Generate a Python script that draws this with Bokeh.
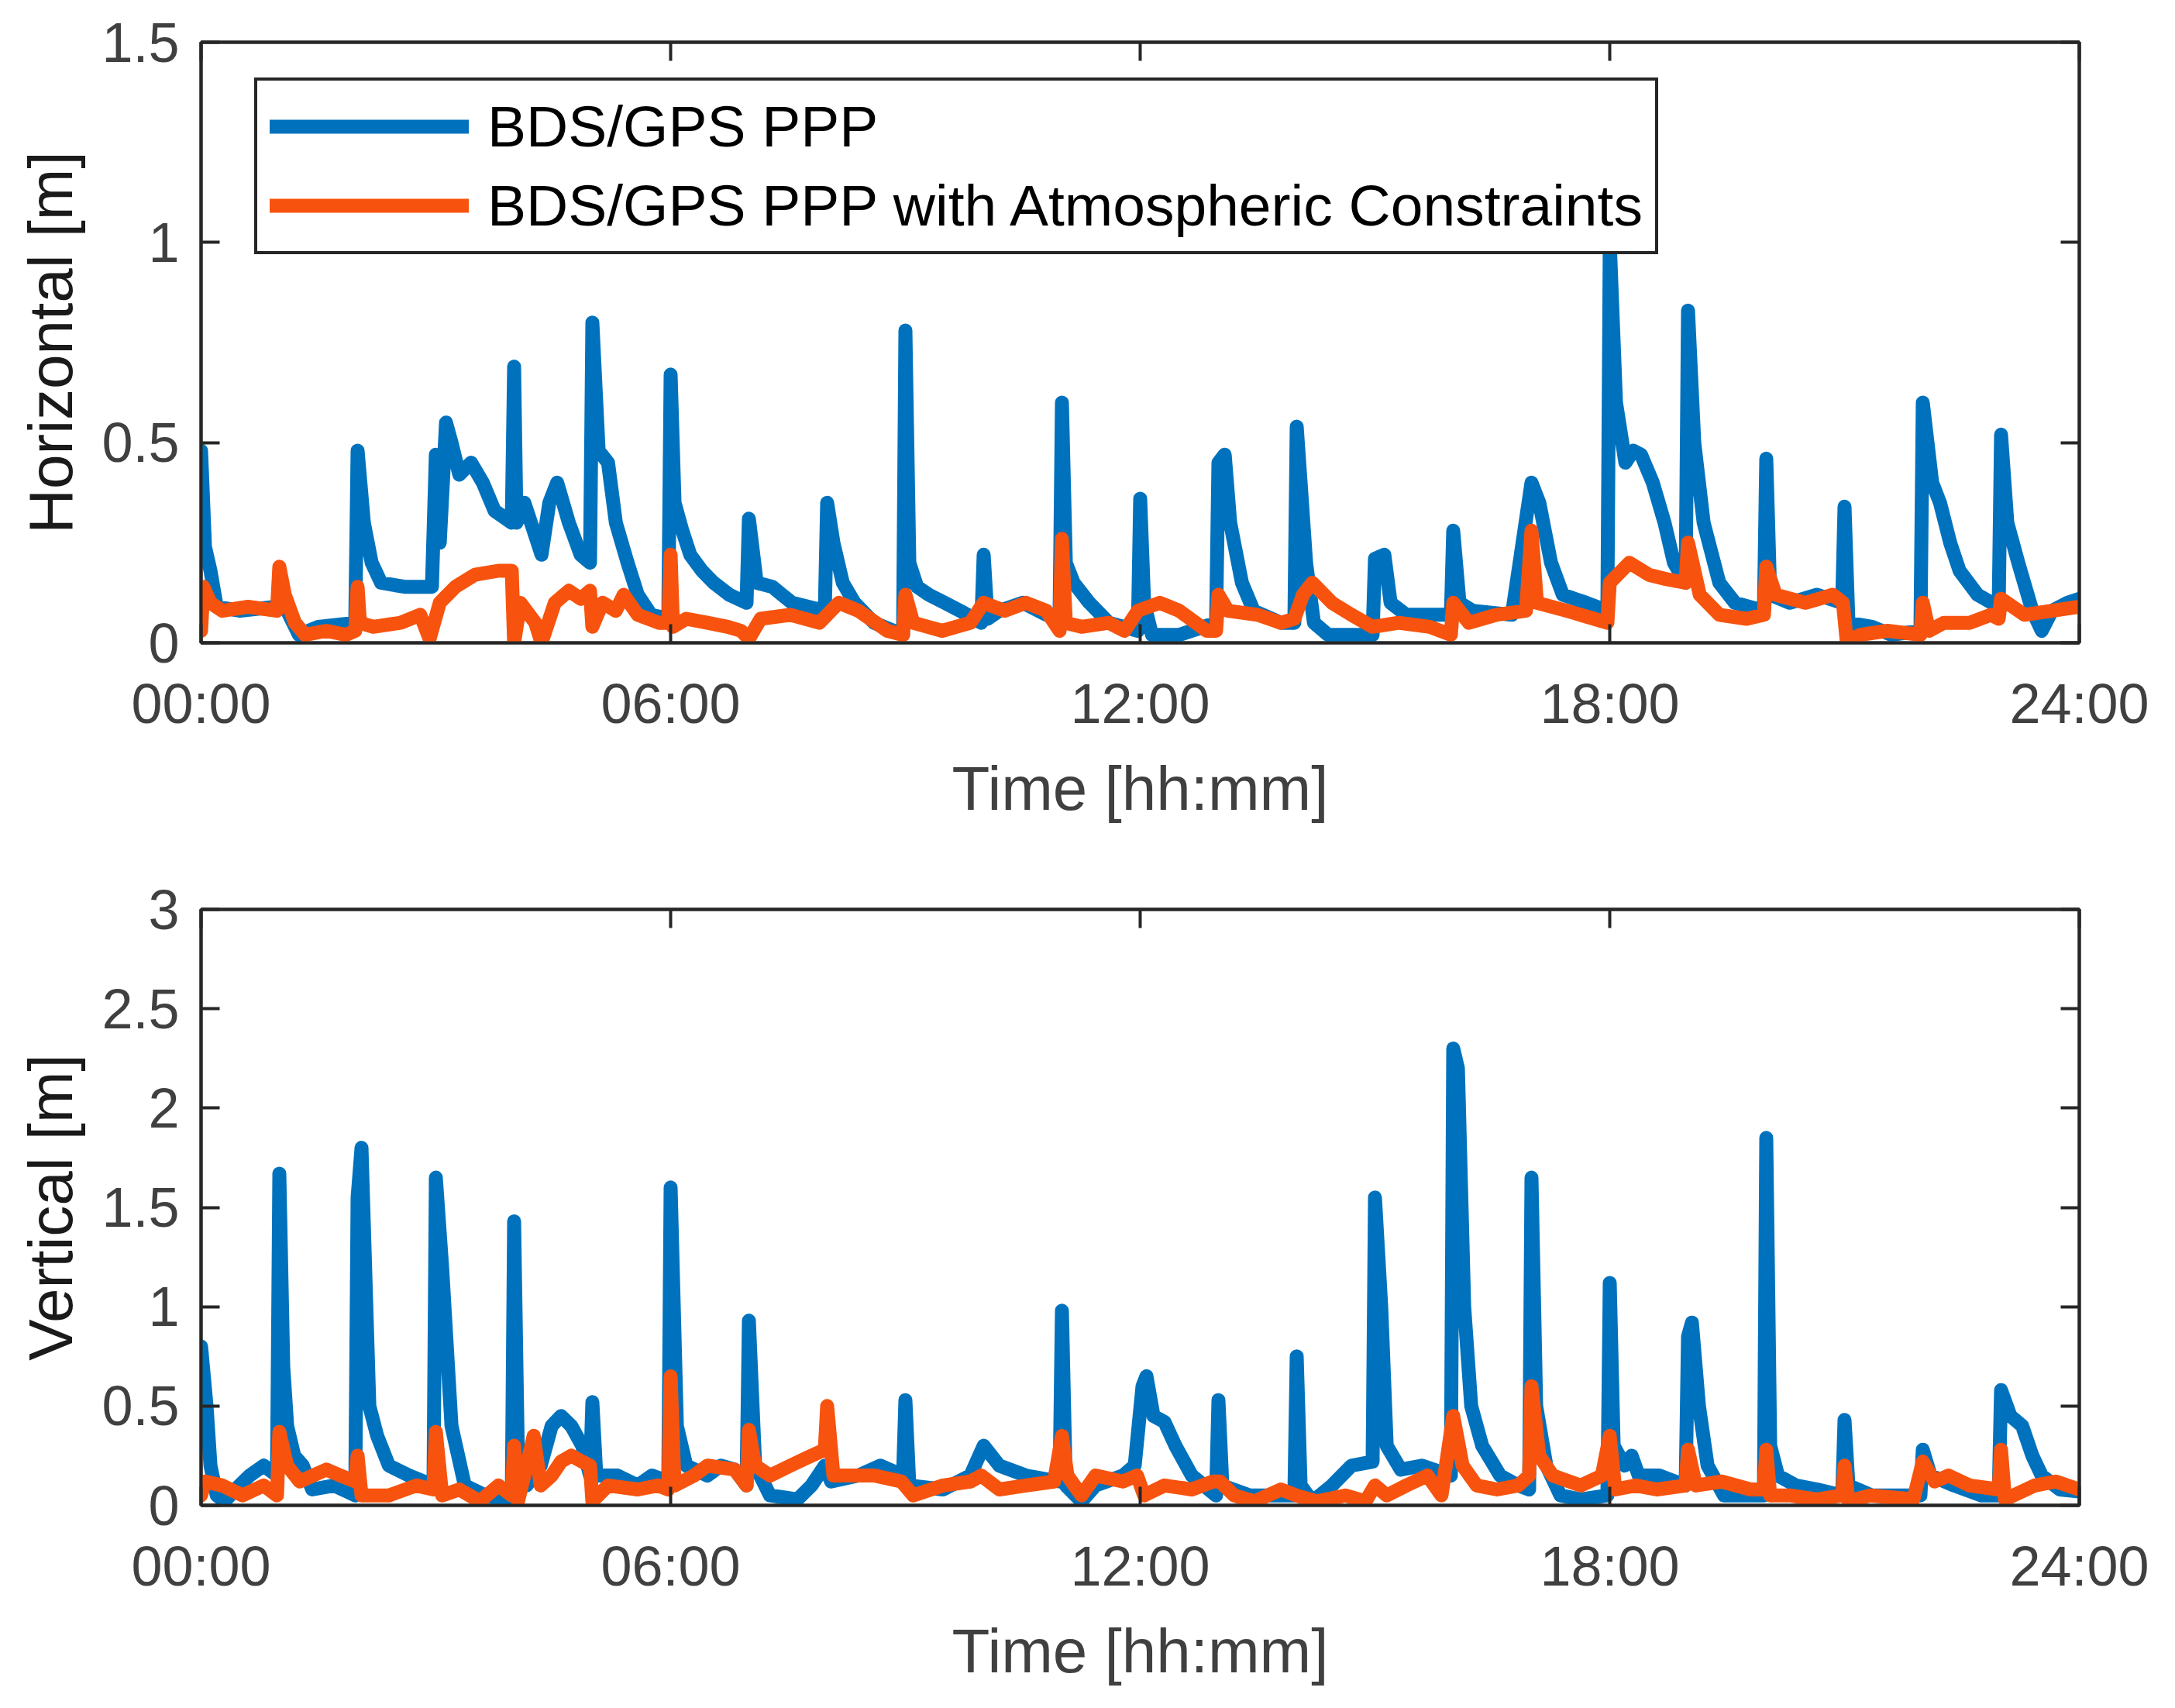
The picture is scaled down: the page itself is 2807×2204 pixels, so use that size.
import numpy as np
from bokeh.plotting import figure
from bokeh.layouts import column
from bokeh.models import Range1d, FixedTicker, LinearAxis, CustomJSTickFormatter
from bokeh.embed import file_html
from bokeh.resources import INLINE

# time in hours, error in metres
hor_ppp_t = [0.0, 0.05, 0.12, 0.2, 0.5, 0.95, 1.05, 1.15, 1.25, 1.5, 1.97,
             2.0, 2.08, 2.18, 2.3, 2.6, 2.95,
             3.0, 3.05, 3.13, 3.2, 3.3, 3.45, 3.6, 3.75, 3.97,
             4.0, 4.03, 4.13, 4.25, 4.35, 4.45, 4.55, 4.7, 4.85, 4.97,
             5.0, 5.08, 5.2, 5.3, 5.45, 5.58, 5.75, 5.97,
             6.0, 6.05, 6.15, 6.25, 6.4, 6.55, 6.75, 6.97,
             7.0, 7.1, 7.3, 7.55, 7.97,
             8.0, 8.08, 8.2, 8.35, 8.6, 8.97,
             9.0, 9.05, 9.15, 9.3, 9.5, 9.7, 9.97,
             10.0, 10.05, 10.2, 10.5, 10.8, 10.97,
             11.0, 11.05, 11.15, 11.35, 11.6, 11.97,
             12.0, 12.05, 12.15, 12.5, 12.97,
             13.0, 13.08, 13.15, 13.3, 13.45, 13.8, 13.97,
             14.0, 14.05, 14.12, 14.22, 14.4, 14.97,
             15.0, 15.12, 15.2, 15.4, 15.97,
             16.0, 16.08, 16.25, 16.75,
             17.0, 17.1, 17.25, 17.4, 17.7, 17.97,
             18.0, 18.08, 18.2, 18.3, 18.4, 18.55, 18.7, 18.82, 18.97,
             19.0, 19.08, 19.2, 19.4, 19.6, 19.97,
             20.0, 20.05, 20.3, 20.65, 20.97,
             21.0, 21.05, 21.35, 21.6, 21.97,
             22.0, 22.12, 22.22, 22.35, 22.47, 22.7, 22.97,
             23.0, 23.08, 23.22, 23.4, 23.52, 23.65, 23.85, 24.0]
hor_ppp_v = [0.48, 0.24, 0.18, 0.09, 0.08, 0.09, 0.1, 0.06, 0.02, 0.04, 0.05,
             0.48, 0.3, 0.2, 0.15, 0.14, 0.14,
             0.47, 0.25, 0.55, 0.5, 0.42, 0.45, 0.4, 0.33, 0.3,
             0.69, 0.3, 0.35, 0.28, 0.22, 0.35, 0.4, 0.3, 0.22, 0.2,
             0.8, 0.48, 0.45, 0.3, 0.2, 0.12, 0.07, 0.06,
             0.67, 0.35, 0.28, 0.22, 0.18, 0.15, 0.12, 0.1,
             0.31, 0.15, 0.14, 0.1, 0.08,
             0.35, 0.25, 0.15, 0.1, 0.05, 0.02,
             0.78, 0.2, 0.14, 0.12, 0.1, 0.08, 0.05,
             0.22, 0.06, 0.08, 0.1, 0.07, 0.07,
             0.6, 0.2, 0.15, 0.1, 0.05, 0.03,
             0.36, 0.1, 0.02, 0.02, 0.05,
             0.45, 0.47, 0.3, 0.15, 0.08, 0.05, 0.05,
             0.54, 0.4, 0.2, 0.05, 0.02, 0.02,
             0.21, 0.22, 0.1, 0.07, 0.07,
             0.28, 0.1, 0.08, 0.07,
             0.4, 0.35, 0.2, 0.12, 0.1, 0.08,
             1.0, 0.6, 0.45, 0.48, 0.47, 0.4, 0.3, 0.2, 0.15,
             0.83, 0.5, 0.3, 0.15, 0.1, 0.08,
             0.46, 0.12, 0.1, 0.12, 0.1,
             0.34, 0.05, 0.04, 0.02, 0.03,
             0.6, 0.4, 0.35, 0.25, 0.18, 0.12, 0.09,
             0.52, 0.3, 0.2, 0.08, 0.03, 0.08, 0.1, 0.11]

hor_atm_t = [0.0, 0.03, 0.12, 0.27, 0.6, 0.97,
             1.0, 1.07, 1.2, 1.33, 1.6, 1.85, 1.97,
             2.0, 2.03, 2.2, 2.55, 2.8, 2.92,
             3.05, 3.25, 3.5, 3.8, 3.97,
             4.0, 4.08, 4.27, 4.35, 4.52, 4.7, 4.85, 4.97,
             5.0, 5.13, 5.3, 5.4, 5.58, 5.85, 5.97,
             6.0, 6.03, 6.2, 6.47, 6.73, 6.9, 7.0,
             7.15, 7.53, 7.9, 8.15, 8.4, 8.77, 8.97,
             9.0, 9.1, 9.47, 9.83, 10.0, 10.27, 10.54, 10.8, 10.97,
             11.0, 11.05, 11.25, 11.6, 11.8, 11.97,
             12.25, 12.5, 12.85, 12.97,
             13.0, 13.12, 13.5, 13.8, 13.97, 14.08, 14.2, 14.45, 14.7, 14.97,
             15.3, 15.7, 15.97, 16.0, 16.2, 16.55, 16.93,
             17.0, 17.07, 17.45, 17.8, 17.97,
             18.0, 18.25, 18.5, 18.7, 18.97,
             19.0, 19.15, 19.4, 19.75, 19.97,
             20.0, 20.12, 20.5, 20.85, 20.98,
             21.03, 21.2, 21.55, 21.97,
             22.0, 22.08, 22.27, 22.6, 22.87, 22.97,
             23.0, 23.3, 23.65, 24.0]
hor_atm_v = [0.03, 0.14, 0.1, 0.08, 0.09, 0.08,
             0.19, 0.12, 0.05, 0.02, 0.03, 0.02, 0.03,
             0.14, 0.05, 0.04, 0.05, 0.07, 0.01,
             0.1, 0.14, 0.17, 0.18, 0.18,
             0.0, 0.1, 0.05, 0.0, 0.1, 0.13, 0.11, 0.13,
             0.04, 0.1, 0.08, 0.12, 0.07, 0.05, 0.05,
             0.22, 0.04, 0.06, 0.05, 0.04, 0.03, 0.01,
             0.06, 0.07, 0.05, 0.1, 0.08, 0.03, 0.02,
             0.12, 0.05, 0.03, 0.05, 0.1, 0.08, 0.1, 0.08, 0.03,
             0.26, 0.05, 0.04, 0.05, 0.03, 0.08,
             0.1, 0.08, 0.03, 0.03,
             0.12, 0.08, 0.07, 0.05, 0.06, 0.12, 0.15, 0.1, 0.07, 0.04,
             0.05, 0.04, 0.02, 0.1, 0.05, 0.07, 0.08,
             0.28, 0.1, 0.08, 0.06, 0.05,
             0.15, 0.2, 0.17, 0.16, 0.15,
             0.25, 0.12, 0.07, 0.06, 0.07,
             0.19, 0.12, 0.1, 0.12, 0.1,
             0.0, 0.02, 0.03, 0.02,
             0.1, 0.03, 0.05, 0.05, 0.07, 0.06,
             0.11, 0.07, 0.08, 0.09]

ver_ppp_t = [0.0, 0.07, 0.12, 0.2, 0.3, 0.44, 0.62, 0.8, 0.97,
             1.0, 1.05, 1.1, 1.19, 1.3, 1.42, 1.7, 1.97,
             2.0, 2.05, 2.15, 2.25, 2.4, 2.66, 2.97,
             3.0, 3.08, 3.2, 3.37, 3.63, 3.97,
             4.0, 4.05, 4.16, 4.34, 4.48, 4.6, 4.73, 4.87, 4.97,
             5.0, 5.05, 5.32, 5.58, 5.76, 5.97,
             6.0, 6.08, 6.2, 6.47, 6.64, 6.82, 6.97,
             7.0, 7.08, 7.27, 7.62, 7.8, 7.97, 8.05, 8.4, 8.68, 8.97,
             9.0, 9.05, 9.48, 9.83, 10.0, 10.2, 10.54, 10.97,
             11.0, 11.05, 11.25, 11.43, 11.78, 11.93,
             12.03, 12.08, 12.17, 12.31, 12.45, 12.66, 12.97,
             13.0, 13.05, 13.4, 13.97,
             14.0, 14.05, 14.2, 14.45, 14.7, 14.97,
             15.0, 15.08, 15.15, 15.33, 15.6, 15.97,
             16.0, 16.06, 16.14, 16.23, 16.37, 16.6, 16.83, 16.97,
             17.0, 17.06, 17.19, 17.37, 17.63, 17.97,
             18.0, 18.05, 18.19, 18.28, 18.37, 18.63, 18.97,
             19.0, 19.05, 19.14, 19.25, 19.46, 19.97,
             20.0, 20.05, 20.15, 20.38, 20.65, 20.97,
             21.0, 21.05, 21.35, 21.97,
             22.0, 22.1, 22.4, 22.75, 22.97,
             23.0, 23.12, 23.27, 23.4, 23.52, 23.75, 24.0]
ver_ppp_v = [0.8, 0.5, 0.2, 0.05, 0.02, 0.08, 0.15, 0.2, 0.15,
             1.67, 0.7, 0.4, 0.25, 0.2, 0.08, 0.1, 0.05,
             1.55, 1.8, 0.5, 0.35, 0.2, 0.15, 0.1,
             1.65, 1.2, 0.4, 0.1, 0.05, 0.02,
             1.43, 0.2, 0.1, 0.2, 0.4, 0.45, 0.4, 0.3, 0.15,
             0.52, 0.15, 0.15, 0.1, 0.15, 0.12,
             1.6, 0.4, 0.2, 0.15, 0.2, 0.18, 0.1,
             0.93, 0.2, 0.05, 0.03, 0.1, 0.2, 0.12, 0.15, 0.2, 0.15,
             0.53, 0.1, 0.08, 0.15, 0.3, 0.2, 0.15, 0.12,
             0.98, 0.1, 0.02, 0.1, 0.15, 0.2,
             0.6, 0.65, 0.45, 0.42, 0.3, 0.15, 0.05,
             0.53, 0.1, 0.05, 0.05,
             0.75, 0.1, 0.02, 0.1, 0.2, 0.22,
             1.55, 1.0, 0.3, 0.18, 0.2, 0.15,
             2.3, 2.2, 1.0, 0.5, 0.3, 0.15, 0.1, 0.08,
             1.65, 0.5, 0.2, 0.05, 0.03, 0.05,
             1.12, 0.3, 0.2, 0.25, 0.15, 0.15, 0.1,
             0.85, 0.92, 0.5, 0.2, 0.05, 0.05,
             1.85, 0.3, 0.15, 0.1, 0.08, 0.05,
             0.43, 0.1, 0.05, 0.05,
             0.28, 0.15, 0.1, 0.05, 0.05,
             0.58, 0.45, 0.4, 0.25, 0.15, 0.08, 0.07]

ver_atm_t = [0.0, 0.05, 0.27, 0.53, 0.8, 0.97,
             1.0, 1.1, 1.26, 1.43, 1.6, 1.78, 1.97,
             2.0, 2.05, 2.4, 2.75, 2.97,
             3.0, 3.08, 3.3, 3.56, 3.8, 3.97,
             4.0, 4.05, 4.16, 4.25, 4.34, 4.48, 4.6, 4.73, 4.87, 4.97,
             5.0, 5.2, 5.58, 5.84, 5.97,
             6.0, 6.05, 6.3, 6.47, 6.82, 6.97,
             7.0, 7.08, 7.27, 7.53, 7.8, 7.97, 8.0, 8.08, 8.6, 8.95,
             9.1, 9.48, 9.83, 9.97, 10.2, 10.54, 10.9,
             11.0, 11.07, 11.25, 11.43, 11.78, 11.96, 12.05, 12.31, 12.66, 12.93, 13.02,
             13.2, 13.46, 13.8, 13.99, 14.26, 14.62, 14.88, 15.0, 15.15, 15.4, 15.67, 15.85,
             16.0, 16.12, 16.3, 16.56, 16.83, 16.97,
             17.0, 17.1, 17.27, 17.63, 17.9,
             18.0, 18.07, 18.33, 18.6, 18.97,
             19.0, 19.1, 19.43, 19.8, 19.97,
             20.0, 20.05, 20.3, 20.65, 20.97,
             21.0, 21.05, 21.33, 21.88,
             22.0, 22.15, 22.33, 22.6, 22.97,
             23.0, 23.05, 23.43, 23.7, 24.0]
ver_atm_v = [0.05, 0.12, 0.1, 0.05, 0.1, 0.05,
             0.37, 0.2, 0.12, 0.15, 0.18, 0.15, 0.12,
             0.25, 0.05, 0.05, 0.1, 0.08,
             0.37, 0.05, 0.08, 0.02, 0.1, 0.05,
             0.3, 0.02, 0.2, 0.35, 0.1, 0.15, 0.22, 0.25, 0.22, 0.2,
             0.02, 0.1, 0.08, 0.1, 0.08,
             0.65, 0.1, 0.15, 0.2, 0.18, 0.1,
             0.38, 0.2, 0.15, 0.2, 0.25, 0.28, 0.5, 0.15, 0.15, 0.12,
             0.05, 0.1, 0.12, 0.15, 0.08, 0.1, 0.12,
             0.35, 0.15, 0.05, 0.15, 0.12, 0.15, 0.05, 0.1, 0.08, 0.12, 0.12,
             0.05, 0.02, 0.08, 0.05, 0.02, 0.05, 0.02, 0.1, 0.05, 0.1, 0.15, 0.05,
             0.45, 0.2, 0.1, 0.08, 0.1, 0.15,
             0.6, 0.25, 0.15, 0.1, 0.15,
             0.35, 0.08, 0.1, 0.08, 0.1,
             0.28, 0.1, 0.12, 0.08, 0.08,
             0.28, 0.05, 0.05, 0.03, 0.05,
             0.2, 0.02, 0.05, 0.03,
             0.22, 0.12, 0.15, 0.1, 0.08,
             0.28, 0.03, 0.1, 0.12, 0.08]

x_ticks = [0, 6, 12, 18, 24]
hor_ticks = [0, 0.5, 1, 1.5]
ver_ticks = [0, 0.5, 1, 1.5, 2, 2.5, 3]
label_ppp = "BDS/GPS PPP"
label_atm = "BDS/GPS PPP with Atmospheric Constraints"

BLUE = "#0072BD"
ORANGE = "#F7530E"
AXC = "#262626"
FONT = "Liberation Sans"
LW = 18

xfmt = CustomJSTickFormatter(code="return String(tick).padStart(2, '0') + ':00';")
yfmt = CustomJSTickFormatter(code="return String(tick);")


def style_axis(ax):
    ax.axis_line_color = AXC
    ax.axis_line_width = 4
    ax.major_tick_line_color = AXC
    ax.major_tick_line_width = 4
    ax.major_tick_in = 24
    ax.major_tick_out = 0
    ax.minor_tick_line_color = None
    ax.major_label_text_font = FONT
    ax.major_label_text_font_size = "72px"
    ax.major_label_text_color = "#404040"
    ax.axis_label_text_font = FONT
    ax.axis_label_text_font_size = "80px"
    ax.axis_label_text_font_style = "normal"


def make_plot(ymax, yticks, ylabel, h, top, bottom):
    p = figure(width=2799, height=h, x_range=Range1d(0, 24), y_range=Range1d(0, ymax),
               min_border_left=259, min_border_right=116, min_border_top=top,
               min_border_bottom=bottom, output_backend="svg", toolbar_location=None)
    p.grid.visible = False
    p.outline_line_color = AXC
    p.outline_line_width = 4
    p.outline_line_alpha = 1.0
    p.background_fill_color = "white"
    p.border_fill_color = "white"

    p.xaxis.ticker = FixedTicker(ticks=x_ticks)
    p.xaxis.formatter = xfmt
    p.yaxis.ticker = FixedTicker(ticks=yticks)
    p.yaxis.formatter = yfmt
    p.xaxis.axis_label = "Time [hh:mm]"
    p.yaxis.axis_label = ylabel
    for ax in p.xaxis + p.yaxis:
        style_axis(ax)
    p.xaxis.major_label_standoff = 38
    p.xaxis.axis_label_standoff = 22
    p.xaxis.axis_label_text_color = "#404040"
    p.yaxis.major_label_standoff = 28
    p.yaxis.axis_label_standoff = 18
    p.yaxis.axis_label_text_color = "#1a1a1a"

    # mirrored ticks on top and right
    top_ax = LinearAxis(ticker=FixedTicker(ticks=x_ticks),
                        formatter=CustomJSTickFormatter(code="return '';"))
    right_ax = LinearAxis(ticker=FixedTicker(ticks=yticks),
                          formatter=CustomJSTickFormatter(code="return '';"))
    for ax in (top_ax, right_ax):
        style_axis(ax)
        ax.major_label_standoff = 0
    p.add_layout(top_ax, "above")
    p.add_layout(right_ax, "right")
    return p


p1 = make_plot(1.5, hor_ticks, "Horizontal [m]", 1100, 54, 271)
p1.line(hor_ppp_t, hor_ppp_v, color=BLUE, line_width=LW, line_join="round",
        line_cap="round", legend_label=label_ppp)
p1.line(hor_atm_t, hor_atm_v, color=ORANGE, line_width=LW, line_join="round",
        line_cap="round", legend_label=label_atm)
lg = p1.legend[0]
lg.location = (69, 501)
lg.margin = 0
lg.padding = 16
lg.spacing = 16
lg.glyph_width = 257
lg.glyph_height = 80
lg.label_height = 80
lg.label_standoff = 24
lg.label_text_font = FONT
lg.label_text_font_size = "75px"
lg.label_text_color = "black"
lg.border_line_color = AXC
lg.border_line_width = 4
lg.border_line_alpha = 1.0
lg.background_fill_alpha = 1.0

p2 = make_plot(3, ver_ticks, "Vertical [m]", 1096, 73, 254)
p2.line(ver_ppp_t, ver_ppp_v, color=BLUE, line_width=LW, line_join="round", line_cap="round")
p2.line(ver_atm_t, ver_atm_v, color=ORANGE, line_width=LW, line_join="round", line_cap="round")

layout = column(p1, p2)
open("out.html", "w").write(file_html(layout, INLINE))
